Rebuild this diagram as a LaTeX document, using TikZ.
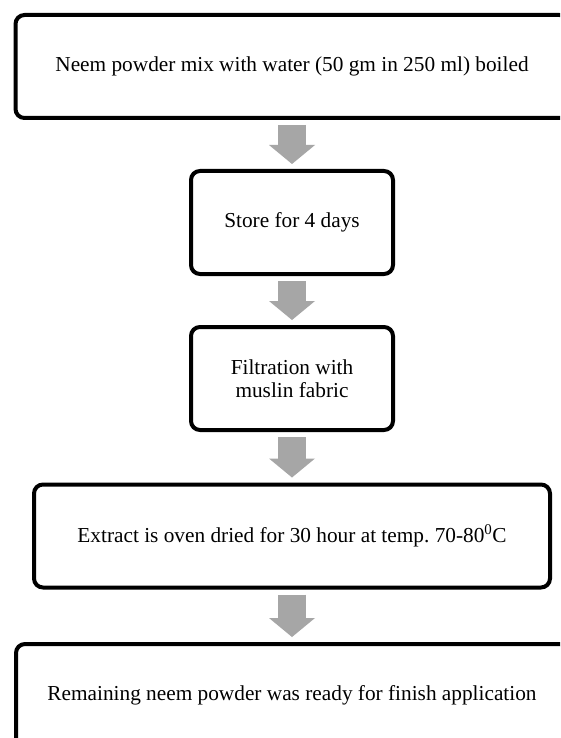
\documentclass[tikz,border=0pt]{standalone}
\usepackage{fontspec}
\setmainfont{Liberation Serif}
\usetikzlibrary{arrows.meta}
\definecolor{flowgray}{RGB}{166,166,166}
\frenchspacing
\begin{document}
\begin{tikzpicture}[x=1pt, y=-1pt,
    every node/.style={font=\fontsize{21.3}{23}\selectfont},
    stepbox/.style={draw, line width=4pt, rounded corners=9pt, align=center,
        inner sep=0pt, minimum height=103pt},
    flow/.style={draw=flowgray, line width=28pt,
        -{Triangle[width=46pt, length=19pt, line width=0pt]},
        shorten <=5pt, shorten >=5pt}]
    \useasboundingbox (0,0) rectangle (560,738);
    \fill[white] (0,0) rectangle (560,738);
    \clip (0,0) rectangle (560,738);
    \node[stepbox, minimum width=553pt] (boil) at (292,66.5)
        {Neem powder mix with water (50 gm in 250 ml) boiled};
    \node[stepbox, minimum width=202pt] (store) at (292,222.5) {Store for 4 days};
    \node[stepbox, minimum width=202pt] (filter) at (292,378.5) {Filtration with\\muslin fabric};
    \node[stepbox, minimum width=516pt] (dry) at (292,536)
        {Extract is oven dried for 30 hour at temp. 70-80\textsuperscript{0}C};
    \node[stepbox, minimum width=552pt] (ready) at (292,695.5)
        {Remaining neem powder was ready for finish application};
    \draw[flow] (boil.south) -- (store.north);
    \draw[flow] (store.south) -- (filter.north);
    \draw[flow] (filter.south) -- (dry.north);
    \draw[flow] (dry.south) -- (ready.north);
\end{tikzpicture}
\end{document}
